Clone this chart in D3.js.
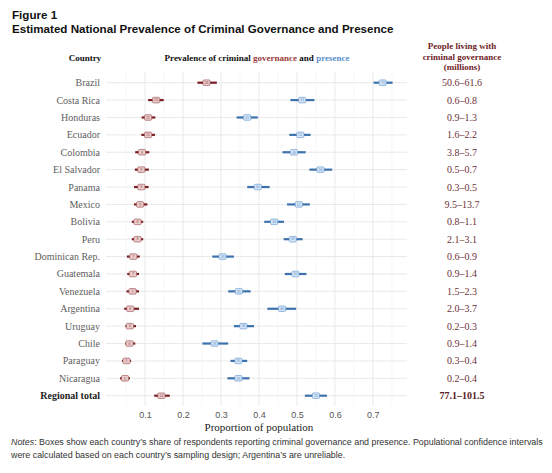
<!DOCTYPE html>
<html>
<head>
<meta charset="utf-8">
<script src="https://cdn.jsdelivr.net/npm/d3@7"></script>
<style>
  body { margin: 0; background: #fff; }
  svg { display: block; }
</style>
</head>
<body>
<div id="chart"></div>
<script>
// Datos
const countries = ['Brazil', 'Costa Rica', 'Honduras', 'Ecuador', 'Colombia', 'El Salvador', 'Panama', 'Mexico',
  'Bolivia', 'Peru', 'Dominican Rep.', 'Guatemala', 'Venezuela', 'Argentina', 'Uruguay', 'Chile', 'Paraguay',
  'Nicaragua', 'Regional total'];

const govEst  = [0.262, 0.129, 0.108, 0.108, 0.092, 0.090, 0.090, 0.087, 0.080, 0.080, 0.069, 0.068, 0.067, 0.061, 0.060, 0.059, 0.051, 0.047, 0.143];
const govLow  = [0.238, 0.108, 0.091, 0.090, 0.074, 0.073, 0.071, 0.071, 0.065, 0.065, 0.052, 0.053, 0.051, 0.045, 0.048, 0.048, 0.039, 0.034, 0.124];
const govHigh = [0.289, 0.149, 0.127, 0.126, 0.111, 0.110, 0.109, 0.106, 0.095, 0.095, 0.086, 0.084, 0.084, 0.084, 0.076, 0.074, 0.063, 0.060, 0.165];

const presEst  = [0.726, 0.514, 0.369, 0.509, 0.492, 0.562, 0.397, 0.505, 0.440, 0.489, 0.304, 0.496, 0.347, 0.461, 0.359, 0.283, 0.346, 0.346, 0.550];
const presLow  = [0.702, 0.483, 0.341, 0.480, 0.462, 0.533, 0.369, 0.474, 0.414, 0.465, 0.277, 0.468, 0.319, 0.422, 0.334, 0.251, 0.325, 0.317, 0.521];
const presHigh = [0.752, 0.546, 0.397, 0.536, 0.523, 0.593, 0.428, 0.534, 0.466, 0.515, 0.334, 0.525, 0.378, 0.498, 0.387, 0.319, 0.369, 0.375, 0.579];

const peopleLabels = ['50.6–61.6', '0.6–0.8', '0.9–1.3', '1.6–2.2', '3.8–5.7', '0.5–0.7', '0.3–0.5', '9.5–13.7',
  '0.8–1.1', '2.1–3.1', '0.6–0.9', '0.9–1.4', '1.5–2.3', '2.0–3.7', '0.2–0.3', '0.9–1.4', '0.3–0.4', '0.2–0.4',
  '77.1–101.5'];

const xTicks = [0.1, 0.2, 0.3, 0.4, 0.5, 0.6, 0.7];
const xMinor = [0.05, 0.15, 0.25, 0.35, 0.45, 0.55, 0.65, 0.75];

// Colores
const rojo = '#7a1e22', rojoCaja = '#e8cccc', rojoBorde = '#9a4a4e';
const azul = '#3d72ad', azulCaja = '#d6e6f6', azulBorde = '#5f93cc';
const serif = '"Liberation Serif", "Times New Roman", serif';
const sans = '"Liberation Sans", Arial, sans-serif';

const width = 552, height = 473;
const svg = d3.select('#chart').append('svg').attr('width', width).attr('height', height);

// Títulos
svg.append('text').attr('x', 12).attr('y', 19).attr('font-family', sans).attr('font-weight', 'bold')
  .attr('font-size', 11.6).attr('fill', '#111').text('Figure 1');
svg.append('text').attr('x', 12).attr('y', 32.5).attr('font-family', sans).attr('font-weight', 'bold')
  .attr('font-size', 11.6).attr('fill', '#111').text('Estimated National Prevalence of Criminal Governance and Presence');

// Escalas
const x = d3.scaleLinear().domain([-0.003, 0.79]).range([106, 407]);
const y = d3.scalePoint().domain(countries).range([82.7, 395.7]);
const yTop = 72, yBottom = 406;

// Rejilla
const rejilla = svg.append('g');
rejilla.selectAll('line.minor').data(xMinor.filter(v => x(v) < 407)).enter().append('line')
  .attr('x1', d => x(d)).attr('x2', d => x(d)).attr('y1', yTop).attr('y2', yBottom)
  .attr('stroke', '#f2f2f2').attr('stroke-width', 0.6);
rejilla.selectAll('line.major').data(xTicks).enter().append('line')
  .attr('x1', d => x(d)).attr('x2', d => x(d)).attr('y1', yTop).attr('y2', yBottom)
  .attr('stroke', '#e6e6e6').attr('stroke-width', 0.9);
rejilla.selectAll('line.row').data(countries).enter().append('line')
  .attr('x1', 106).attr('x2', 407).attr('y1', d => y(d)).attr('y2', d => y(d))
  .attr('stroke', '#e6e6e6').attr('stroke-width', 0.9);

// Eje x
const ejeX = svg.append('g').attr('transform', `translate(0,${yBottom})`)
  .call(d3.axisBottom(x).tickValues(xTicks).tickSize(0).tickPadding(6).tickFormat(d3.format('.1f')));
ejeX.select('.domain').remove();
ejeX.selectAll('text').attr('font-family', sans).attr('font-size', 9).attr('fill', '#555');

svg.append('text').attr('x', x(0.4)).attr('y', 431).attr('text-anchor', 'middle')
  .attr('font-family', serif).attr('font-size', 11).attr('fill', '#222').text('Proportion of population');

// Cabeceras
svg.append('text').attr('x', 85).attr('y', 61).attr('text-anchor', 'middle').attr('font-family', serif)
  .attr('font-weight', 'bold').attr('font-size', 9).attr('fill', '#111').text('Country');

const cab = svg.append('text').attr('x', 257).attr('y', 61).attr('text-anchor', 'middle').attr('font-family', serif)
  .attr('font-weight', 'bold').attr('font-size', 9).attr('fill', '#111');
cab.append('tspan').text('Prevalence of criminal ');
cab.append('tspan').attr('fill', '#9a3b3b').text('governance');
cab.append('tspan').text(' and ');
cab.append('tspan').attr('fill', '#5b8fd0').text('presence');

const cabDer = svg.append('text').attr('text-anchor', 'middle').attr('font-family', serif)
  .attr('font-weight', 'bold').attr('font-size', 9).attr('fill', '#6e2328');
['People living with', 'criminal governance', '(millions)'].forEach((t, i) => {
  cabDer.append('tspan').attr('x', 462).attr('y', 49 + i * 10.6).text(t);
});

// Etiquetas de país
svg.append('g').selectAll('text').data(countries).enter().append('text')
  .attr('x', 100).attr('y', d => y(d)).attr('dy', '0.35em').attr('text-anchor', 'end')
  .attr('font-family', serif).attr('font-size', 10)
  .attr('font-weight', d => d === 'Regional total' ? 'bold' : 'normal')
  .attr('fill', d => d === 'Regional total' ? '#222' : '#5e5e5e')
  .text(d => d);

// Columna de personas
svg.append('g').selectAll('text').data(peopleLabels).enter().append('text')
  .attr('x', 462).attr('y', (d, i) => y(countries[i])).attr('dy', '0.35em').attr('text-anchor', 'middle')
  .attr('font-family', serif).attr('font-size', 10)
  .attr('font-weight', (d, i) => i === countries.length - 1 ? 'bold' : 'normal')
  .attr('fill', (d, i) => i === countries.length - 1 ? '#5a1d22' : '#6e3238')
  .text(d => d);

// Series: intervalo + caja con valor
function serie(est, low, high, linea, caja, borde) {
  const filas = countries.map((c, i) => ({ c, est: est[i], low: low[i], high: high[i] }));
  const g = svg.append('g');
  g.selectAll('line').data(filas).enter().append('line')
    .attr('x1', d => x(d.low)).attr('x2', d => x(d.high))
    .attr('y1', d => y(d.c)).attr('y2', d => y(d.c))
    .attr('stroke', linea).attr('stroke-width', 2.2).attr('stroke-linecap', 'butt');
  const m = g.selectAll('g').data(filas).enter().append('g')
    .attr('transform', d => `translate(${x(d.est)},${y(d.c)})`);
  m.append('rect').attr('x', -3.6).attr('y', -2.8).attr('width', 7.2).attr('height', 5.6).attr('rx', 1.2)
    .attr('fill', caja).attr('stroke', borde).attr('stroke-width', 0.6);
  m.append('text').attr('text-anchor', 'middle').attr('dy', '0.35em').attr('font-family', sans)
    .attr('font-size', 3.6).attr('fill', borde).text(d => Math.round(d.est * 100));
}
serie(govEst, govLow, govHigh, rojo, rojoCaja, rojoBorde);
serie(presEst, presLow, presHigh, azul, azulCaja, azulBorde);

// Nota al pie
const nota = svg.append('text').attr('font-family', sans).attr('font-size', 8.9).attr('fill', '#333');
const l1 = nota.append('tspan').attr('x', 11).attr('y', 445);
l1.append('tspan').attr('font-style', 'italic').text('Notes');
l1.append('tspan').text(': Boxes show each country’s share of respondents reporting criminal governance and presence. Populational confidence intervals');
nota.append('tspan').attr('x', 11).attr('y', 458)
  .text('were calculated based on each country’s sampling design; Argentina’s are unreliable.');
</script>
</body>
</html>
